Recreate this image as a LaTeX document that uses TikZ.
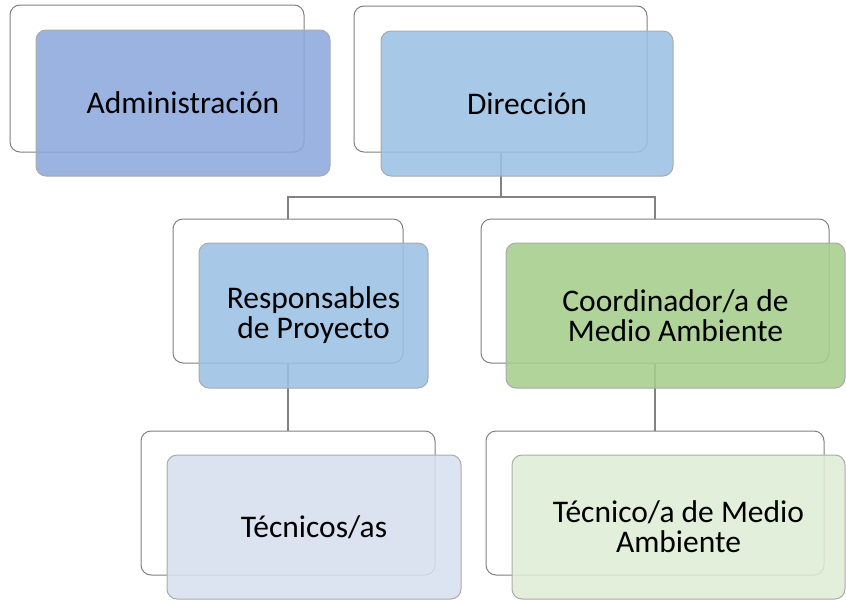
\documentclass[tikz,border=0pt]{standalone}
\usepackage{fontspec}
\setmainfont{Carlito}
\definecolor{linegray}{RGB}{130,130,130}
\definecolor{framegray}{RGB}{128,128,128}
\definecolor{edgegray}{RGB}{170,170,170}
\definecolor{adminblue}{RGB}{141,169,220}
\definecolor{dirblue}{RGB}{155,193,228}
\definecolor{coordgreen}{RGB}{165,206,139}
\definecolor{tecblue}{RGB}{215,224,240}
\definecolor{tecgreen}{RGB}{223,237,213}
\begin{document}
\begin{tikzpicture}[x=1pt, y=-1pt,
  every node/.style={font=\fontsize{31.5}{30}\selectfont},
  back/.style={draw=framegray, line width=1pt, rounded corners=10pt, fill=white, inner sep=0pt},
  front/.style={draw=edgegray, line width=1pt, rounded corners=10pt, fill opacity=0.88, text opacity=1, align=center, inner sep=0pt},
  conn/.style={draw=linegray, line width=2pt}]
  \useasboundingbox (0,0) rectangle (846,600);

  \node[back, minimum width=294, minimum height=147] (adminback) at (157,78.5) {};
  \node[back, minimum width=293, minimum height=146] (dirback) at (500.5,79) {};
  \node[back, minimum width=230, minimum height=144] (respback) at (288,291) {};
  \node[back, minimum width=348, minimum height=144] (coordback) at (655,291) {};
  \node[back, minimum width=294, minimum height=144] (tecback) at (288,503) {};
  \node[back, minimum width=338, minimum height=144] (tmaback) at (655,503) {};

  \coordinate (bus) at (0,197);
  \draw[conn] (dirback.south) -- (dirback.south |- bus) -| (respback.north);
  \draw[conn] (dirback.south |- bus) -| (coordback.north);
  \draw[conn] (respback.south) -- (tecback.north);
  \draw[conn] (coordback.south) -- (tmaback.north);

  \node[front, fill=adminblue, minimum width=294, minimum height=146] (admin) at (183,103) {Administración};
  \node[front, fill=dirblue, minimum width=292, minimum height=145] (dir) at (527,103.5) {Dirección};
  \node[front, fill=dirblue, minimum width=229, minimum height=145] (resp) at (313.5,315.5) {Responsables\\de Proyecto};
  \node[front, fill=coordgreen, minimum width=339, minimum height=145] (coord) at (675.5,315.5) {Coordinador/a de\\Medio Ambiente};
  \node[front, fill=tecblue, minimum width=294, minimum height=144] (tec) at (314,527) {Técnicos/as};
  \node[front, fill=tecgreen, minimum width=333, minimum height=144] (tma) at (678.5,527) {Técnico/a de Medio\\Ambiente};
\end{tikzpicture}
\end{document}
